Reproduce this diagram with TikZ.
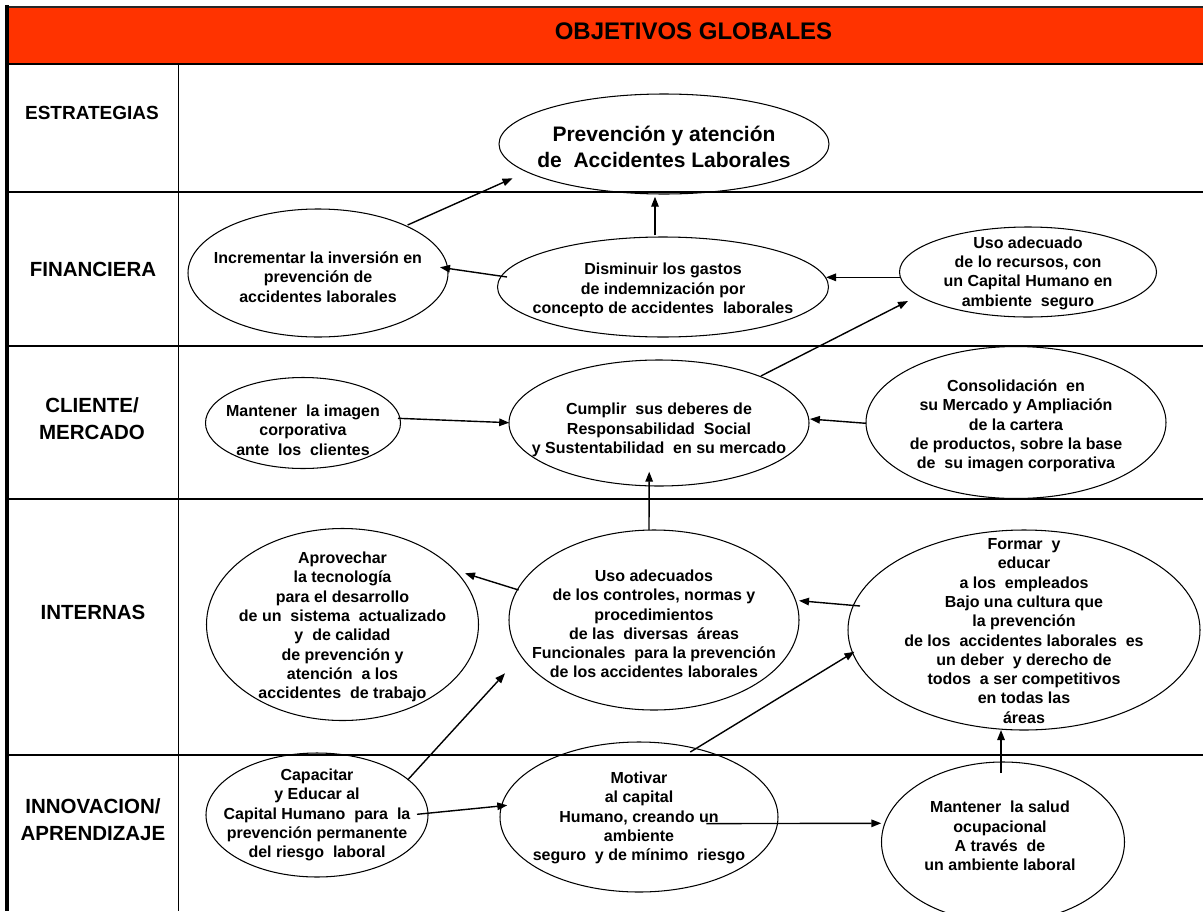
\documentclass[tikz,border=0pt]{standalone}
\usepackage{fontspec}
\setmainfont{Liberation Sans}
\usetikzlibrary{shapes.geometric,arrows.meta,calc}
\newcommand{\ellfont}{\fontsize{16}{19.3}\selectfont\bfseries}
\newcommand{\bigellfont}{\fontsize{21}{25.7}\selectfont\bfseries}
\newcommand{\rowfont}{\fontsize{20.5}{27}\selectfont\bfseries}
\newcommand{\titlefont}{\fontsize{24}{28}\selectfont\bfseries}
\definecolor{hdr}{RGB}{255,51,0}
\begin{document}
\begin{tikzpicture}[x=1pt,y=-1pt,
  ell/.style={draw, ellipse, inner sep=0pt, line width=1.05pt},
  etext/.style={font=\ellfont, align=center, inner sep=0pt},
  rowlab/.style={font=\rowfont, align=center, inner sep=0pt},
  arr/.style={-{Triangle[length=10pt,width=7.5pt]}, line width=1.4pt},
  rowrule/.style={line width=2pt},
]
\useasboundingbox (0,0) rectangle (1203,911);
\fill[white] (0,0) rectangle (1203,911);
% header
\fill[hdr] (8,8) rectangle (1203,64);
\node[font=\titlefont, inner sep=0pt] (title) at (693.5,31) {OBJETIVOS GLOBALES};
% grid
\draw[line width=2.5pt, black!85] (5,7) -- (1203,7);
\draw[line width=3.5pt] (7,5) -- (7,911);
\draw[rowrule] (7,64) -- (1203,64);
\draw[rowrule] (7,192) -- (1203,192);
\draw[rowrule] (7,346) -- (1203,346);
\draw[rowrule] (7,499) -- (1203,499);
\draw[rowrule] (7,755) -- (1203,755);
\draw[line width=1.5pt] (178.5,64) -- (178.5,911);
% row labels
\node[rowlab, font=\fontsize{19}{24}\selectfont\bfseries] (r1) at (92,113) {ESTRATEGIAS};
\node[rowlab] (r2) at (93,269) {FINANCIERA};
\node[rowlab] (r3) at (92,419) {CLIENTE/\\MERCADO};
\node[rowlab] (r4) at (93,612) {INTERNAS};
\node[rowlab] (r5) at (93,820) {INNOVACION/\\APRENDIZAJE};
% ellipses
\node[ell, minimum width=330pt, minimum height=100pt] (prev) at (664,144) {};
\node[ell, minimum width=260pt, minimum height=128pt] (incr) at (318,273) {};
\node[ell, minimum width=331pt, minimum height=100pt] (dism) at (663,287) {};
\node[ell, minimum width=257pt, minimum height=90pt] (uso) at (1028,272) {};
\node[ell, minimum width=195pt, minimum height=91pt] (imag) at (303,423) {};
\node[ell, minimum width=300pt, minimum height=126pt] (cumplir) at (659,423) {};
\node[ell, minimum width=300pt, minimum height=152pt] (cons) at (1016,422.5) {};
\node[ell, minimum width=272pt, minimum height=192pt] (aprov) at (342.5,624.5) {};
\node[ell, minimum width=290pt, minimum height=180pt] (usos) at (654,620) {};
\node[ell, minimum width=352pt, minimum height=200pt] (formar) at (1024,630) {};
\node[ell, minimum width=222pt, minimum height=124pt] (cap) at (317,815) {};
\node[ell, minimum width=278pt, minimum height=150pt] (mot) at (639,817) {};
\node[ell, minimum width=243pt, minimum height=160pt] (salud) at (1003,842) {};
% texts
\node[etext, font=\bigellfont] (prev-t) at (664,147) {Prevención y atención\\de\ \ Accidentes Laborales};
\node[etext] (incr-t) at (318,277) {Incrementar la inversión en\\prevención de\\accidentes laborales};
\node[etext] (dism-t) at (663,290) {Disminuir los gastos\\de indemnización por\\concepto de accidentes\ \ laborales};
\node[etext] (uso-t) at (1028,273) {Uso adecuado\\de lo recursos, con\\un Capital Humano en\\ambiente\ \ seguro};
\node[etext] (imag-t) at (303,430) {Mantener\ \ la imagen\\corporativa\\ante\ \ los\ \ clientes};
\node[etext] (cumplir-t) at (659,430) {Cumplir\ \ sus deberes de\\Responsabilidad\ \ Social\\y Sustentabilidad\ \ en su mercado};
\node[etext] (cons-t) at (1016,426) {Consolidación\ \ en\\su Mercado y Ampliación\\de la cartera\\de productos, sobre la base\\de\ \ su imagen corporativa};
\node[etext] (aprov-t) at (342.5,627) {Aprovechar\\la tecnología\\para el desarrollo\\de un\ \ sistema\ \ actualizado\\y\ \ de calidad\\de prevención y\\atención\ \ a los\\accidentes\ \ de trabajo};
\node[etext] (usos-t) at (654,624) {Uso adecuados\\de los controles, normas y\\procedimientos\\de las\ \ diversas\ \ áreas\\Funcionales\ \ para la prevención\\de los accidentes laborales};
\node[etext] (formar-t) at (1024,631) {Formar\ \ y\\educar\\a los\ \ empleados\\Bajo una cultura que\\la prevención\\de los\ \ accidentes laborales\ \ es\\un deber\ \ y derecho de\\todos\ \ a ser competitivos\\en todas las\\áreas};
\node[etext] (cap-t) at (317,815) {Capacitar\\y Educar al\\Capital Humano\ \ para\ \ la\\prevención permanente\\del riesgo\ \ laboral};
\node[etext] (mot-t) at (639,818) {Motivar\\al capital\\Humano, creando un\\ambiente\\seguro\ \ y de mínimo\ \ riesgo};
\node[etext] (salud-t) at (1000,836) {Mantener\ \ la salud\\ocupacional\\A través\ \ de\\un ambiente laboral};
% arrows
\draw[arr] ($(incr.center)+(89.6,-48)$) -- ($(prev.center)+(-151.5,34.3)$);
\draw[arr] ($(dism.center)+(-8,-51.7)$) -- ($(prev.center)+(-9,52.7)$);
\draw[arr] ($(dism.center)+(-156,-10)$) -- ($(incr.center)+(122,-5.7)$);
\draw[arr] ($(uso.center)+(-128.3,5.3)$) -- ($(dism.center)+(163,-9.7)$);
\draw[arr] ($(cumplir.center)+(101.9,-47)$) -- ($(uso.center)+(-120,29)$);
\draw[arr] ($(imag.center)+(95,-4.7)$) -- ($(cumplir.center)+(-149.8,-0.3)$);
\draw[arr] ($(cons.center)+(-150,0.8)$) -- ($(cumplir.center)+(150.9,-4)$);
\draw[arr] ($(usos.center)+(-5,-90)$) -- ($(cumplir.center)+(-9.8,48.7)$);
\draw[arr] ($(usos.center)+(-135.4,-30)$) -- ($(aprov.center)+(122.5,-51.2)$);
\draw[arr] ($(formar.center)+(-164,-24)$) -- ($(usos.center)+(145,-19.3)$);
\draw[arr] ($(cap.center)+(90.6,-35)$) -- ($(usos.center)+(-149,53.3)$);
\draw[arr] ($(mot.center)+(51.3,-65)$) -- ($(formar.center)+(-169.5,21.7)$);
\draw[arr] ($(cap.center)+(100,-0.7)$) -- ($(mot.center)+(-131.7,-11.7)$);
\draw[arr] ($(mot.center)+(67.3,6.6)$) -- ($(salud.center)+(-121.7,-18.7)$);
\draw[arr] ($(salud.center)+(-2,-69)$) -- ($(formar.center)+(-23,100)$);
\end{tikzpicture}
\end{document}
